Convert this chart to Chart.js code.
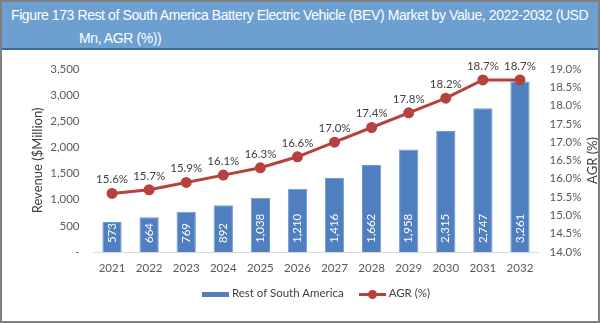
<!DOCTYPE html>
<html>
<head>
<meta charset="utf-8">
<script src="https://cdn.jsdelivr.net/npm/chart.js@4"></script>
<style>
  body { margin: 0; background: #fff; }
  #frame {
    position: relative; width: 600px; height: 323px; box-sizing: border-box;
    border: 2px solid #7f7f7f; overflow: hidden;
  }
  #title {
    height: 48px; background: #6d9fd1; border-bottom: 2px solid #3c6a9a;
    color: #fff; font: 14px "Liberation Sans", Arial, sans-serif; letter-spacing: -0.4px;
    line-height: 23px; padding: 2px 2px 0 77px; text-indent: -68px; box-sizing: border-box;
  }
  #wrap { position: absolute; left: 0; top: 46px; width: 596px; height: 273px; }
  #legend {
    position: absolute; top: 282px; left: 32px; width: 564px; text-align: center;
    font: 11.5px Lato, "Open Sans", sans-serif; color: #404040;
  }
  .item { display: inline-block; margin: 0 6px; vertical-align: middle; }
  .sw { display: inline-block; vertical-align: middle; position: relative; width: 27px; height: 10px; margin-right: 3px; }
  .bar { position: absolute; left: 0; top: 3px; width: 27px; height: 5px; background: #4f7fbf; }
  .ln { position: absolute; left: 0; top: 4px; width: 27px; height: 3px; background: #b6423f; }
  .dot { position: absolute; left: 9px; top: 1px; width: 9px; height: 9px; border-radius: 50%; background: #b6423f; }
</style>
</head>
<body>
<div id="frame">
  <div id="title">Figure 173 Rest of South America Battery Electric Vehicle (BEV) Market by Value, 2022-2032 (USD Mn, AGR (%))</div>
  <div id="wrap"><canvas id="chart" width="596" height="273"></canvas></div>
  <div id="legend">
    <span class="item"><span class="sw"><span class="bar"></span></span>Rest of South America</span>
    <span class="item"><span class="sw"><span class="ln"></span><span class="dot"></span></span>AGR (%)</span>
  </div>
</div>
<script>
// Data
const years = ['2021', '2022', '2023', '2024', '2025', '2026', '2027', '2028', '2029', '2030', '2031', '2032'];
const revenue = [573, 664, 769, 892, 1038, 1210, 1416, 1662, 1958, 2315, 2747, 3261];
const agr = [15.6, 15.7, 15.9, 16.1, 16.3, 16.6, 17.0, 17.4, 17.8, 18.2, 18.7, 18.7];
const revenueTicks = [0, 500, 1000, 1500, 2000, 2500, 3000, 3500];
const agrTicks = [14, 14.5, 15, 15.5, 16, 16.5, 17, 17.5, 18, 18.5, 19];

const fontFamily = 'Lato, "Open Sans", sans-serif';
const tickFont = { family: fontFamily, size: 11.5 };
const textColor = '#595959';

// labels on bars and points, plus the two axis titles
const labelPlugin = {
    id: 'labels',
    afterDatasetsDraw(chart) {
        const c = chart.ctx;
        c.save();
        c.font = '11.5px ' + fontFamily;

        // bar values, rotated, inside base
        const bars = chart.getDatasetMeta(1);
        c.fillStyle = '#ffffff';
        c.textAlign = 'left';
        c.textBaseline = 'middle';
        bars.data.forEach((bar, i) => {
            c.save();
            c.translate(bar.x, bar.base - 9);
            c.rotate(-Math.PI / 2);
            c.fillText(revenue[i].toLocaleString('en-US'), 0, 0);
            c.restore();
        });

        // AGR values above points
        const pts = chart.getDatasetMeta(0);
        c.fillStyle = '#404040';
        c.textAlign = 'center';
        c.textBaseline = 'bottom';
        pts.data.forEach((p, i) => {
            c.fillText(agr[i].toFixed(1) + '%', p.x, p.y - 8);
        });

        // axis titles
        c.font = '13px ' + fontFamily;
        c.textBaseline = 'middle';
        const midY = (chart.chartArea.top + chart.chartArea.bottom) / 2;
        c.save();
        c.translate(36, midY);
        c.rotate(-Math.PI / 2);
        c.fillText('Revenue ($Million)', 0, 0);
        c.restore();
        c.save();
        c.translate(591, midY);
        c.rotate(-Math.PI / 2);
        c.fillText('AGR (%)', 0, 0);
        c.restore();
        c.restore();
    }
};

new Chart(document.getElementById('chart'), {
    data: {
        labels: years,
        datasets: [
            {
                type: 'line',
                label: 'AGR (%)',
                data: agr,
                yAxisID: 'y1',
                borderColor: '#b6423f',
                backgroundColor: '#b6423f',
                borderWidth: 3,
                pointRadius: 4,
                pointHoverRadius: 4,
                tension: 0,
                order: 0
            },
            {
                type: 'bar',
                label: 'Rest of South America',
                data: revenue,
                yAxisID: 'y',
                backgroundColor: '#4f7fbf',
                borderColor: '#6f9ad0',
                borderWidth: 1,
                categoryPercentage: 1,
                barPercentage: 0.52,
                order: 1
            }
        ]
    },
    options: {
        responsive: false,
        animation: false,
        layout: { padding: 0 },
        plugins: { legend: { display: false }, tooltip: { enabled: false } },
        scales: {
            x: {
                grid: { display: false, drawTicks: false },
                border: { display: true, color: '#d9d9d9', width: 1 },
                ticks: { font: tickFont, color: textColor, padding: 9 },
                afterFit(s) { s.height = 69; }
            },
            y: {
                position: 'left',
                min: 0, max: 3500,
                afterBuildTicks(s) { s.ticks = revenueTicks.map(v => ({ value: v })); },
                grid: { display: false, drawTicks: false },
                border: { display: false },
                ticks: {
                    font: tickFont, color: textColor, padding: 14,
                    callback: v => v === 0 ? '-' : v.toLocaleString('en-US')
                },
                afterFit(s) { s.width = 91.5; }
            },
            y1: {
                position: 'right',
                min: 14, max: 19,
                afterBuildTicks(s) { s.ticks = agrTicks.map(v => ({ value: v })); },
                grid: { display: false, drawTicks: false },
                border: { display: false },
                ticks: {
                    font: tickFont, color: textColor, padding: 11,
                    callback: v => v.toFixed(1) + '%'
                },
                afterFit(s) { s.width = 59.5; }
            }
        }
    },
    plugins: [labelPlugin]
});
</script>
</body>
</html>
